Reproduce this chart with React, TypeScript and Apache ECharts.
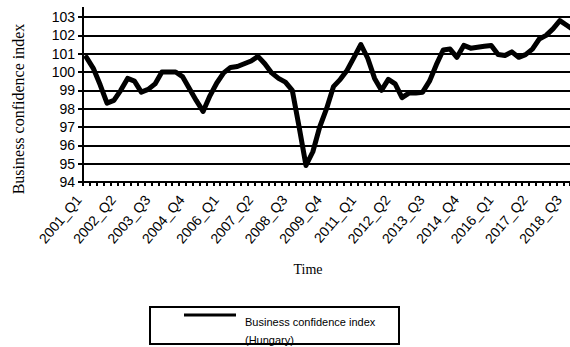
import React, { useEffect, useRef } from "react";
import * as echarts from "echarts";

const categories: string[] = [
  "2001_Q1","2001_Q2","2001_Q3","2001_Q4",
  "2002_Q1","2002_Q2","2002_Q3","2002_Q4",
  "2003_Q1","2003_Q2","2003_Q3","2003_Q4",
  "2004_Q1","2004_Q2","2004_Q3","2004_Q4",
  "2005_Q1","2005_Q2","2005_Q3","2005_Q4",
  "2006_Q1","2006_Q2","2006_Q3","2006_Q4",
  "2007_Q1","2007_Q2","2007_Q3","2007_Q4",
  "2008_Q1","2008_Q2","2008_Q3","2008_Q4",
  "2009_Q1","2009_Q2","2009_Q3","2009_Q4",
  "2010_Q1","2010_Q2","2010_Q3","2010_Q4",
  "2011_Q1","2011_Q2","2011_Q3","2011_Q4",
  "2012_Q1","2012_Q2","2012_Q3","2012_Q4",
  "2013_Q1","2013_Q2","2013_Q3","2013_Q4",
  "2014_Q1","2014_Q2","2014_Q3","2014_Q4",
  "2015_Q1","2015_Q2","2015_Q3","2015_Q4",
  "2016_Q1","2016_Q2","2016_Q3","2016_Q4",
  "2017_Q1","2017_Q2","2017_Q3","2017_Q4",
  "2018_Q1","2018_Q2","2018_Q3","2018_Q4",
];

const confidenceHungary: number[] = [
  100.8, 100.2, 99.3, 98.3,
  98.45, 99.0, 99.65, 99.5,
  98.9, 99.05, 99.35, 100.0,
  100.0, 100.0, 99.75, 99.1,
  98.45, 97.85, 98.7, 99.4,
  99.95, 100.25, 100.3, 100.45,
  100.6, 100.85, 100.45, 99.95,
  99.65, 99.45, 99.0, 97.0,
  94.9, 95.65, 97.0, 98.0,
  99.2, 99.6, 100.1, 100.8,
  101.5, 100.75, 99.65, 99.0,
  99.6, 99.35, 98.6, 98.85,
  98.85, 98.9, 99.5, 100.4,
  101.2, 101.25, 100.8, 101.45,
  101.3, 101.35, 101.4, 101.45,
  100.95, 100.9, 101.1, 100.8,
  100.95, 101.25, 101.8, 102.0,
  102.35, 102.8, 102.55, 102.3,
];

const seriesName = "Business confidence index\n(Hungary)";
const yTitle = "Business confidence index";
const xTitle = "Time";
const yMin = 94;
const yMax = 103;
const yInterval = 1;

export default function App() {
  const ref = useRef<HTMLDivElement>(null);

  useEffect(() => {
    if (!ref.current) return;
    const chart = echarts.init(ref.current, undefined, { renderer: "svg" });
    chart.setOption({
      animation: false,
      backgroundColor: "#ffffff",
      grid: { left: 83, top: 17, width: 494, height: 165 },
      xAxis: {
        type: "category",
        data: categories,
        boundaryGap: true,
        axisLine: { show: true, lineStyle: { color: "#000000", width: 2 } },
        axisTick: { show: true, interval: 0, length: 4, lineStyle: { color: "#000000", width: 2 } },
        axisLabel: {
          show: true,
          interval: 4,
          rotate: 50,
          margin: 6,
          padding: [0, 12, 0, 0],
          color: "#000000",
          fontSize: 14,
          fontFamily: "Liberation Sans, Arial, sans-serif",
        },
        splitLine: { show: false },
      },
      yAxis: {
        type: "value",
        min: yMin,
        max: yMax,
        interval: yInterval,
        axisLine: { show: true, lineStyle: { color: "#000000", width: 2 } },
        axisTick: { show: true, length: 5, lineStyle: { color: "#000000", width: 2 } },
        axisLabel: {
          margin: 8,
          color: "#000000",
          fontSize: 14,
          fontFamily: "Liberation Sans, Arial, sans-serif",
        },
        splitLine: { show: true, lineStyle: { color: "#000000", width: 2, type: "solid", opacity: 1 } },
      },
      series: [
        {
          name: seriesName,
          type: "line",
          data: confidenceHungary,
          symbol: "none",
          smooth: false,
          z: 5,
          lineStyle: { color: "#000000", width: 5, join: "round", cap: "round" },
        },
      ],
      graphic: [
        {
          type: "line",
          shape: { x1: 83, y1: 7, x2: 83, y2: 18 },
          style: { stroke: "#000", lineWidth: 2 },
        },
        {
          type: "text",
          x: 18,
          y: 109,
          rotation: Math.PI / 2,
          style: {
            text: yTitle,
            fontSize: 16,
            fontFamily: "Liberation Serif, Times New Roman, serif",
            fill: "#000",
            align: "center",
            verticalAlign: "middle",
          },
        },
        {
          type: "text",
          x: 308,
          y: 269,
          style: {
            text: xTitle,
            fontSize: 14,
            fontFamily: "Liberation Serif, Times New Roman, serif",
            fill: "#000",
            align: "center",
            verticalAlign: "middle",
          },
        },
        {
          type: "line",
          shape: { x1: 184, y1: 315, x2: 236, y2: 315 },
          style: { stroke: "#000", lineWidth: 3 },
        },
        {
          type: "text",
          x: 245,
          y: 322,
          style: {
            text: "Business confidence index",
            fontSize: 11,
            fontFamily: "Liberation Sans, Arial, sans-serif",
            fill: "#000",
            align: "left",
            verticalAlign: "middle",
          },
        },
        {
          type: "text",
          x: 245,
          y: 340,
          style: {
            text: "(Hungary)",
            fontSize: 11,
            fontFamily: "Liberation Sans, Arial, sans-serif",
            fill: "#000",
            align: "left",
            verticalAlign: "middle",
          },
        },
        {
          type: "rect",
          z: 10,
          shape: { x: 150, y: 307, width: 249, height: 37 },
          style: { fill: "none", stroke: "#000", lineWidth: 2 },
        },
      ],
    });
    return () => chart.dispose();
  }, []);

  return (
    <div
      style={{
        position: "absolute",
        left: 0,
        top: 0,
        width: 570,
        height: 347,
        overflow: "hidden",
        background: "#fff",
      }}
    >
      <div ref={ref} style={{ width: 590, height: 347 }} />
    </div>
  );
}
